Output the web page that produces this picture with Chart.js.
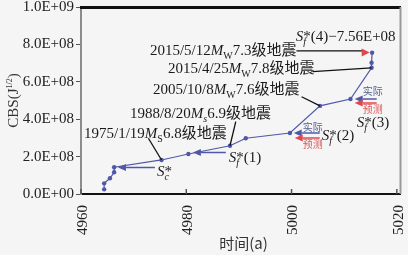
<!DOCTYPE html>
<html><head><meta charset="utf-8">
<script src="https://cdn.jsdelivr.net/npm/chart.js@4/dist/chart.umd.min.js"></script>
<style>html,body{margin:0;padding:0;background:#f5f5f5;}#wrap{width:408px;height:255px;}</style>
</head><body><div id="wrap"><canvas id="c" width="408" height="255"></canvas></div>
<script>
// ---- data ----
const years = [4964.4, 4964.4, 4965.5, 4966.3, 4966.3, 4975.3, 4980.4, 4988.3, 4991.3, 4999.7, 5005.4, 5011.2, 5015.2, 5015.2, 5015.3];
const cbs   = [2.5e7, 5.7e7, 8.4e7, 1.16e8, 1.43e8, 1.82e8, 2.14e8, 2.58e8, 2.98e8, 3.26e8, 4.71e8, 5.08e8, 6.75e8, 7.02e8, 7.56e8];
const xTicks = [4960, 4980, 5000, 5020];
const yTicks = [0, 2e8, 4e8, 6e8, 8e8, 1e9];
const xTitle = '时间(a)';
const yTitleMain = 'CBS(J', yTitleSup = '1/2', yTitleEnd = ')';

// quake labels: [date, M subscript, magnitude, label anchor (year, 1e8), leader start, target point index]
const quakeDates = ['2015/5/12', '2015/4/25', '2005/10/8', '1988/8/20', '1975/1/19'];
const quakeMsub  = ['W', 'W', 'W', 's', 'S'];
const quakeMag   = ['7.3', '7.8', '7.6', '6.9', '6.8'];
const quakeText  = '级地震';
const quakeAt    = [[4973.09, 7.70], [4976.51, 6.74], [4973.66, 5.61], [4969.30, 4.33], [4960.57, 3.26]];
const leaderFrom = [[5000.93, 7.65], [5004.0, 6.54], [5001.9, 5.20], [4989.4, 3.87], [4972.8, 2.98]];
const leaderTo   = [[5013.66, 7.65], 12, 10, 7, 5];

// S labels
const sLabelSub  = ['c', 'f', 'f', 'f', 'f'];
const sLabelTail = ['', '(1)', '(2)', '(3)', '(4)\u22127.56E+08'];
const sLabelAt   = [[4974.42, 1.23], [4988.08, 1.98], [5005.73, 3.155], [5012.37, 3.85], [5000.80, 8.45]];

// arrows [tail, tip, colour]
const arrowTail = [[4974.04, 1.417], [4987.51, 2.219], [5005.35, 3.262], [5005.35, 2.995], [5016.17, 5.080], [5016.17, 4.866]];
const arrowTip  = [[4967.02, 1.417], [4981.25, 2.219], [5000.42, 3.262], [5000.61, 2.995], [5011.99, 5.080], [5011.99, 4.866]];
const arrowKind = ['act', 'act', 'act', 'pred', 'act', 'pred'];
const redTipAt  = [5014.84, 7.567];

const actText = '实际', predText = '预测';
const actAt  = [[5004.02, 3.58], [5015.41, 5.508]];
const predAt = [[5004.02, 2.674], [5015.41, 4.545]];

// ---- styles ----
const BLUE = '#4f58a8', RED = '#e0474c', BG = '#f5f5f5';
const SERIF = '"Liberation Serif","Noto Sans CJK SC",serif';

function fmtE(v) {
  if (v === 0) return '0.0E+00';
  const e = Math.floor(Math.log10(v) + 1e-9);
  const m = v / Math.pow(10, e);
  return m.toFixed(1) + 'E+' + String(e).padStart(2, '0');
}

function drawRich(ctx, x, cy, segs, size, color) {
  const base = cy + size * 0.33;
  let cx = x;
  ctx.fillStyle = color;
  ctx.textAlign = 'left';
  ctx.textBaseline = 'alphabetic';
  for (const s of segs) {
    if (s.stack) {
      ctx.font = Math.round(size) + 'px ' + SERIF;
      ctx.fillText(s.sup, cx, base);
      const w1 = ctx.measureText(s.sup).width;
      ctx.font = 'italic ' + Math.round(size * 0.68) + 'px ' + SERIF;
      ctx.fillText(s.sub, cx, base + size * 0.3);
      const w2 = ctx.measureText(s.sub).width;
      cx += Math.max(w1, w2);
      continue;
    }
    const sz = Math.round(size * (s.scale || 1));
    ctx.font = (s.it ? 'italic ' : '') + sz + 'px ' + SERIF;
    ctx.fillText(s.t, cx, base + (s.dy || 0) * size);
    cx += ctx.measureText(s.t).width;
  }
  return cx - x;
}

function arrow(ctx, x1, y1, x2, y2, color, lw, hl, hw) {
  const a = Math.atan2(y2 - y1, x2 - x1);
  const bx = x2 - hl * Math.cos(a), by = y2 - hl * Math.sin(a);
  ctx.strokeStyle = color; ctx.lineWidth = lw;
  ctx.beginPath(); ctx.moveTo(x1, y1); ctx.lineTo(bx, by); ctx.stroke();
  ctx.fillStyle = color;
  ctx.beginPath();
  ctx.moveTo(x2, y2);
  ctx.lineTo(bx + hw * Math.sin(a), by - hw * Math.cos(a));
  ctx.lineTo(bx - hw * Math.sin(a), by + hw * Math.cos(a));
  ctx.closePath(); ctx.fill();
}

const deco = {
  id: 'deco',
  beforeDraw(chart) {
    const ctx = chart.ctx;
    ctx.save(); ctx.fillStyle = BG; ctx.fillRect(0, 0, chart.width, chart.height); ctx.restore();
  },
  afterDatasetsDraw(chart) {
    const ctx = chart.ctx, xs = chart.scales.x, ys = chart.scales.y, ca = chart.chartArea;
    const P = (p) => [xs.getPixelForValue(p[0]), ys.getPixelForValue(p[1] * 1e8)];
    const PI = (i) => [xs.getPixelForValue(years[i]), ys.getPixelForValue(cbs[i])];
    ctx.save();
    // frame: top black, right grey
    ctx.strokeStyle = '#111'; ctx.lineWidth = 3;
    ctx.beginPath(); ctx.moveTo(ca.left - 1, ca.top + 0.5); ctx.lineTo(ca.right + 1, ca.top + 0.5); ctx.stroke();
    ctx.strokeStyle = '#999'; ctx.lineWidth = 2;
    ctx.beginPath(); ctx.moveTo(ca.right + 0.5, ca.top); ctx.lineTo(ca.right + 0.5, ca.bottom); ctx.stroke();
    // x ticks (inside)
    ctx.strokeStyle = '#555'; ctx.lineWidth = 1.5;
    for (const v of xTicks) {
      const px = xs.getPixelForValue(v);
      ctx.beginPath(); ctx.moveTo(px, ca.bottom); ctx.lineTo(px, ca.bottom - 5); ctx.stroke();
    }
    // leaders
    ctx.strokeStyle = '#111'; ctx.lineWidth = 1.3;
    for (let i = 0; i < leaderFrom.length; i++) {
      const a = P(leaderFrom[i]);
      const b = typeof leaderTo[i] === 'number' ? PI(leaderTo[i]) : P(leaderTo[i]);
      ctx.beginPath(); ctx.moveTo(a[0], a[1]); ctx.lineTo(b[0], b[1]); ctx.stroke();
    }
    // red tip near S_f*(4)
    const rt = P(redTipAt);
    ctx.fillStyle = RED;
    ctx.beginPath(); ctx.moveTo(rt[0], rt[1]); ctx.lineTo(rt[0] - 8, rt[1] - 4); ctx.lineTo(rt[0] - 8, rt[1] + 4); ctx.closePath(); ctx.fill();
    // arrows
    for (let i = 0; i < arrowTail.length; i++) {
      const a = P(arrowTail[i]), b = P(arrowTip[i]);
      arrow(ctx, a[0], a[1], b[0], b[1], arrowKind[i] === 'act' ? BLUE : RED, 1.5, 8, 3.5);
    }
    // quake labels
    for (let i = 0; i < quakeDates.length; i++) {
      const p = P(quakeAt[i]);
      drawRich(ctx, p[0], p[1], [
        { t: quakeDates[i] }, { t: 'M', it: true }, { t: quakeMsub[i], scale: 0.68, dy: 0.28, it: quakeMsub[i] === 's' },
        { t: quakeMag[i] }, { t: quakeText }
      ], 15, '#1a1a1a');
    }
    // S labels
    for (let i = 0; i < sLabelAt.length; i++) {
      const p = P(sLabelAt[i]);
      drawRich(ctx, p[0], p[1], [
        { t: 'S', it: true }, { stack: true, sup: '*', sub: sLabelSub[i] }, { t: sLabelTail[i] }
      ], 15, '#1a1a1a');
    }
    // 实际 / 预测
    ctx.textAlign = 'center'; ctx.textBaseline = 'middle';
    ctx.font = '10px "Noto Sans CJK SC"';
    for (let i = 0; i < actAt.length; i++) {
      const a = P(actAt[i]); ctx.fillStyle = '#55608f'; ctx.fillText(actText, a[0], a[1]);
      const b = P(predAt[i]); ctx.fillStyle = '#d9585a'; ctx.fillText(predText, b[0], b[1]);
    }
    // axis titles
    ctx.fillStyle = '#333';
    ctx.font = '15px "Noto Sans CJK SC","Liberation Serif"';
    ctx.textAlign = 'center'; ctx.textBaseline = 'middle';
    ctx.fillText(xTitle, (ca.left + ca.right) / 2 + 3, 243);
    // y title rotated
    ctx.save();
    ctx.translate(13, (ca.top + ca.bottom) / 2);
    ctx.rotate(-Math.PI / 2);
    const segs = [{ t: yTitleMain }, { t: yTitleSup, scale: 0.55, dy: -0.42 }, { t: yTitleEnd }];
    ctx.globalAlpha = 0; const w = drawRich(ctx, 0, 0, segs, 15, '#333'); ctx.globalAlpha = 1;
    drawRich(ctx, -w / 2, 0, segs, 15, '#333');
    ctx.restore();
    ctx.restore();
  }
};

new Chart(document.getElementById('c'), {
  type: 'scatter',
  data: {
    datasets: [{
      data: years.map((y, i) => ({ x: y, y: cbs[i] })),
      showLine: true,
      borderColor: BLUE, backgroundColor: BLUE,
      borderWidth: 1.2, pointRadius: 2.2, pointHoverRadius: 2.2, pointBorderWidth: 0
    }]
  },
  options: {
    responsive: false, animation: false, devicePixelRatio: 1,
    layout: { padding: { top: 7, right: 8, left: 0, bottom: 0 } },
    plugins: { legend: { display: false }, tooltip: { enabled: false } },
    scales: {
      x: {
        type: 'linear', min: 4960, max: 5020.6,
        afterBuildTicks: (s) => { s.ticks = xTicks.map(v => ({ value: v })); },
        afterFit: (s) => { s.height = 61; s.paddingLeft = 0; s.paddingRight = 0; },
        grid: { display: false },
        border: { display: true, color: '#111', width: 2 },
        ticks: { minRotation: 90, maxRotation: 90, padding: 3, labelOffset: 2, color: '#222',
          font: { family: 'Liberation Serif', size: 15 }, callback: (v) => String(v) }
      },
      y: {
        min: 0, max: 1e9,
        afterBuildTicks: (s) => { s.ticks = yTicks.map(v => ({ value: v })); },
        afterFit: (s) => { s.width = 81; s.paddingTop = 0; s.paddingBottom = 0; },
        grid: { display: true, drawOnChartArea: false, drawTicks: true, tickLength: 5, color: '#555', lineWidth: 1 },
        border: { display: true, color: '#8c8c8c', width: 2 },
        ticks: { padding: 2, color: '#222', font: { family: 'Liberation Serif', size: 15 }, callback: (v) => fmtE(v) }
      }
    }
  },
  plugins: [deco]
});
</script>
</body></html>
